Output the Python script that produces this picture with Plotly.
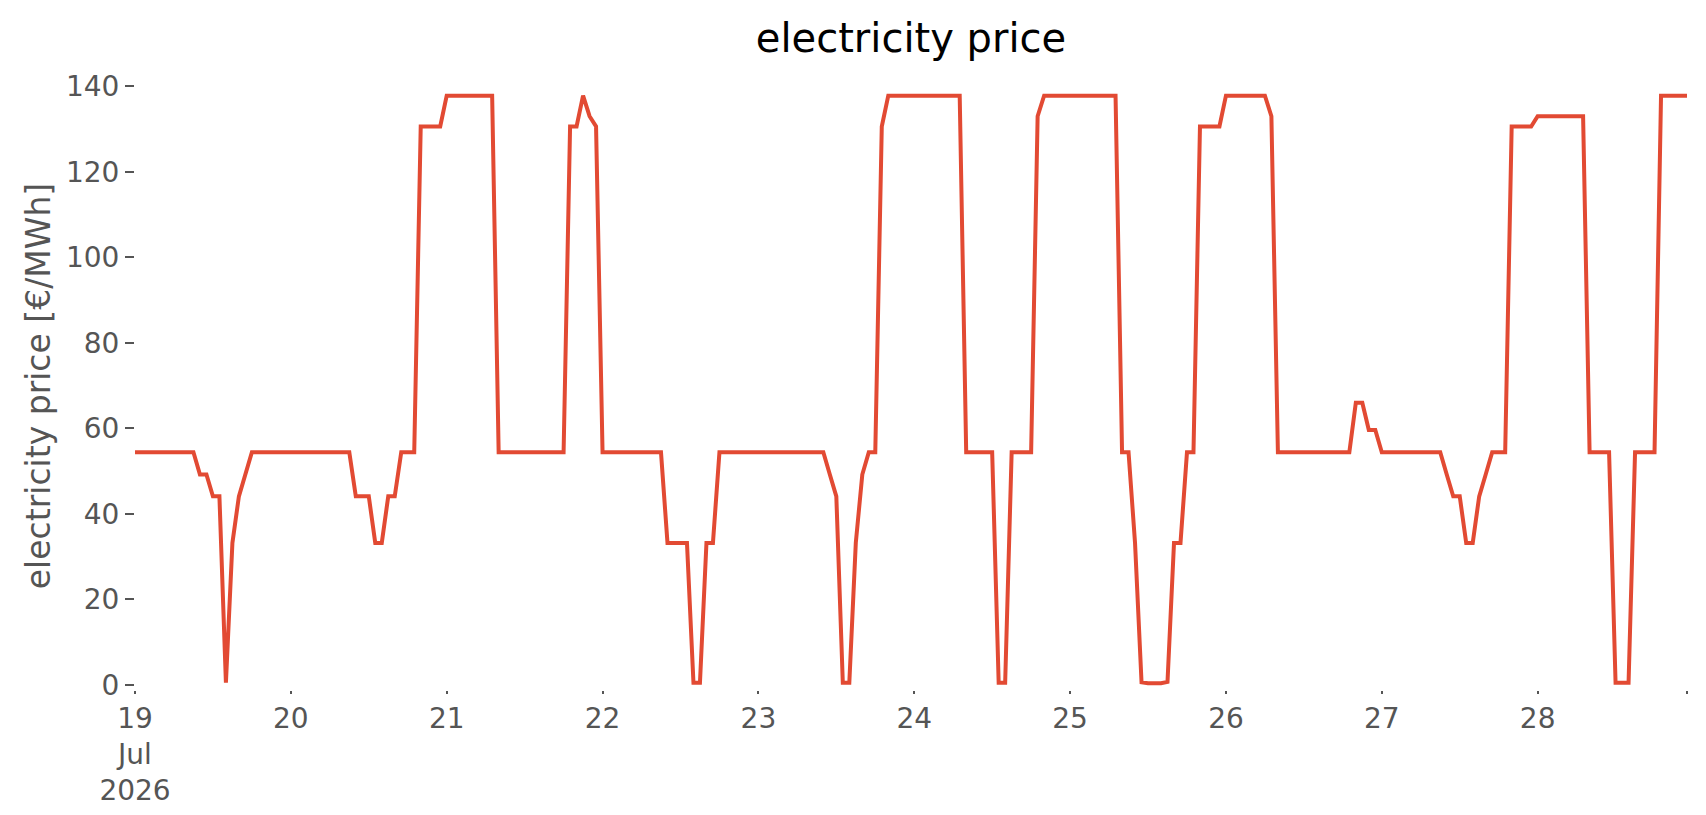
import pandas as pd
import plotly.graph_objects as go

# hourly prices [€/MWh], one list per day (19 .. 28 Jul 2026)
day_19 = [54.4] * 10 + [49.2, 49.2, 44.1, 44.1, 0.5, 33.2, 44.1, 49.2] + [54.4] * 6
day_20 = [54.4] * 10 + [44.1, 44.1, 44.1, 33.2, 33.2, 44.1, 44.1, 54.4, 54.4, 54.4] + [130.6] * 4
day_21 = [137.8] * 8 + [54.4] * 11 + [130.6, 130.6, 137.8, 133.0, 130.6]
day_22 = [54.4] * 10 + [33.2, 33.2, 33.2, 33.2, 0.5, 0.5, 33.2, 33.2] + [54.4] * 6
day_23 = [54.4] * 11 + [49.2, 44.1, 0.5, 0.5, 33.2, 49.2, 54.4, 54.4, 130.6] + [137.8] * 4
day_24 = [137.8] * 8 + [54.4] * 5 + [0.5, 0.5] + [54.4] * 4 + [133.0] + [137.8] * 4
day_25 = [137.8] * 8 + [54.4, 54.4, 33.2, 0.6, 0.4, 0.3, 0.4, 0.7, 33.2, 33.2, 54.4, 54.4] + [130.6] * 4
day_26 = [137.8] * 7 + [133.0] + [54.4] * 12 + [66.0, 66.0, 59.6, 59.6]
day_27 = [54.4] * 10 + [49.2, 44.1, 44.1, 33.2, 33.2, 44.1, 49.2, 54.4, 54.4, 54.4] + [130.6] * 4
day_28 = [133.0] * 8 + [54.4] * 4 + [0.5, 0.5, 0.5] + [54.4] * 4 + [137.8] * 5

days = [day_19, day_20, day_21, day_22, day_23, day_24, day_25, day_26, day_27, day_28]
price = [v for d in days for v in d]
time = pd.date_range("2026-07-19 00:00", periods=len(price), freq="h")

tick_vals = list(pd.date_range("2026-07-19", "2026-07-28", freq="D")) + [time[-1]]
tick_text = ["19<br>Jul<br>2026", "20", "21", "22", "23", "24", "25", "26", "27", "28", ""]

grey = "#555555"

fig = go.Figure()
fig.add_trace(go.Scatter(x=time, y=price, mode="lines",
                         line=dict(color="#E24A33", width=4)))

fig.update_layout(
    width=1706, height=815,
    margin=dict(l=127, r=27, t=74, b=133),
    paper_bgcolor="white", plot_bgcolor="white",
    font=dict(family="DejaVu Sans", color=grey),
    showlegend=False,
    title=dict(text="electricity price", x=0.5, xref="paper", xanchor="center",
               y=1 - 29.5 / 815, yref="container", yanchor="middle",
               font=dict(size=40, color="black")),
)
fig.update_xaxes(range=[time[0], time[-1]], tickmode="array",
                 tickvals=tick_vals, ticktext=tick_text,
                 showgrid=False, zeroline=False, showline=False,
                 ticks="outside", ticklen=3, tickwidth=2, tickcolor=grey,
                 tickfont=dict(size=28, color=grey))
fig.update_yaxes(range=[-1.2, 141], tickvals=[0, 20, 40, 60, 80, 100, 120, 140],
                 showgrid=False, zeroline=False, showline=False,
                 ticks="outside", ticklen=9, tickwidth=2, tickcolor=grey,
                 tickfont=dict(size=28, color=grey),
                 title=dict(text="electricity price [€/MWh]", standoff=5,
                            font=dict(size=33, color=grey)))

fig.write_html("out.html")
